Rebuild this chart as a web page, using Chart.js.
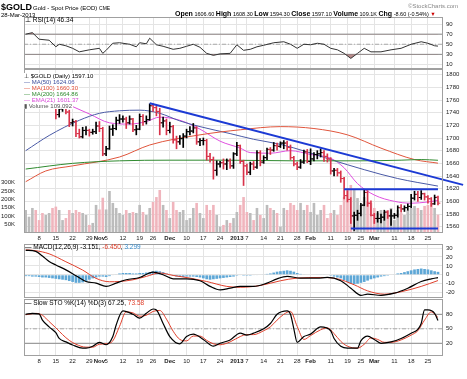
<!DOCTYPE html>
<html>
<head>
<meta charset="utf-8">
<script src="https://cdn.jsdelivr.net/npm/chart.js@4.4.0/dist/chart.umd.min.js"></script>
<style>
  html, body { margin: 0; padding: 0; background: #fff; }
  #wrap { position: relative; width: 467px; height: 379px; overflow: hidden; font-family: "Liberation Sans", Arial, sans-serif; }
  #wrap canvas { position: absolute; left: 0; top: 0; }
  .t { position: absolute; white-space: nowrap; line-height: 1; color: #000; z-index: 5; }
  #legend { position: absolute; left: 24px; top: 73px; font-size: 6px; line-height: 6px; z-index: 5; }
  #legend span { background: #fff; padding-right: 1px; }
  .q b { font-size: 7px; }
</style>
</head>
<body>
<div id="wrap">
  <canvas id="rsiChart" width="467" height="379"></canvas>
  <canvas id="priceChart" width="467" height="379"></canvas>
  <canvas id="macdChart" width="467" height="379"></canvas>
  <canvas id="stoChart" width="467" height="379"></canvas>

  <div class="t" style="left:1px;top:3px;font-size:9px;font-weight:bold;">$GOLD</div>
  <div class="t" style="left:33px;top:5px;font-size:6px;">Gold - Spot Price (EOD) <span style="font-size:5px">CME</span></div>
  <div class="t" style="left:1px;top:12px;font-size:6px;">28-Mar-2013</div>
  <div class="t" style="left:408px;top:3px;font-size:6px;color:#888;">©StockCharts.com</div>
  <div class="t q" style="left:175px;top:10px;font-size:5.5px;"><b>Open</b> 1606.60 <b>High</b> 1608.30 <b>Low</b> 1594.30 <b>Close</b> 1597.10 <b>Volume</b> 109.1K <b>Chg</b> -8.60 (-0.54%) <span style="color:#c00">&#9660;</span></div>

  <div class="t" style="left:25px;top:17px;font-size:6.5px;">&#8869; RSI(14) 46.34</div>

  <div id="legend">
    <div><span>&#8869; $GOLD (Daily) 1597.10</span></div>
    <div style="color:#3b4c9c"><span>&#8212; MA(50) 1624.06</span></div>
    <div style="color:#dd4a35"><span>&#8212; MA(100) 1660.30</span></div>
    <div style="color:#2f8a2f"><span>&#8212; MA(200) 1664.86</span></div>
    <div style="color:#d84ad8"><span>&#8212; EMA(21) 1601.37</span></div>
    <div style="color:#555"><span>&#9646; Volume 109,092</span></div>
  </div>

  <div class="t" style="left:25px;top:244px;font-size:6.5px;">&#8212; MACD(12,26,9) -3.151, <span style="color:#e0402c">-6.450</span>, <span style="color:#3a8fd0">3.299</span></div>
  <div class="t" style="left:25px;top:300px;font-size:6.5px;">&#8212; Slow STO %K(14) %D(3) 67.25, <span style="color:#e0402c">73.58</span></div>
</div>

<script>
// trading days are indexed 0..123 (2 Oct 2012 .. 28 Mar 2013)
const tickIdx  = [4, 9, 14, 19, 22, 24, 29, 34, 38, 43, 48, 53, 58, 63, 66, 71, 76, 81, 85, 91, 96, 100, 104, 110, 115, 120];
const tickText = ['8', '15', '22', '29', 'Nov', '5', '12', '19', '26', 'Dec', '10', '17', '24', '2013', '7', '14', '21', '28', 'Feb', '11', '19', '25', 'Mar', '11', '18', '25'];
const boldTicks = ['Nov', 'Dec', '2013', 'Feb', 'Mar'];

const priceTicks = [1560, 1580, 1600, 1620, 1640, 1660, 1680, 1700, 1720, 1740, 1760, 1780, 1800];
const volTicks = [50000, 100000, 150000, 200000, 250000, 300000];
const rsiTicks = [10, 30, 50, 70, 90];
const macdTicks = [-20, -10, 0, 10, 20, 30];
const stoTicks = [20, 50, 80];

const open = [1774,1776,1778,1793,1780,1775,1765,1765,1768,1757,
  1737,1746,1752,1741,1724,1726,1707,1702,1712,1712,
  1709,1710,1719,1715,1675,1683,1714,1715,1728,1730,
  1730,1724,1730,1713,1714,1734,1726,1729,1751,1748,
  1742,1724,1727,1712,1718,1697,1694,1699,1703,1710,
  1711,1716,1694,1696,1696,1671,1666,1649,1659,1661,
  1659,1664,1656,1675,1688,1663,1656,1646,1659,1654,
  1677,1662,1669,1682,1681,1688,1687,1692,1692,1685,
  1669,1659,1654,1662,1678,1663,1667,1674,1675,1677,
  1671,1667,1648,1649,1645,1636,1609,1603,1577,1578,
  1581,1594,1614,1597,1578,1573,1573,1575,1583,1577,
  1577,1578,1590,1588,1590,1592,1605,1611,1606,1612,
  1607,1604,1596,1606.6];
const high = [1787,1781,1796,1798,1782,1779,1770,1776,1774,1759,
  1748,1753,1754,1744,1730,1728,1714,1717,1718,1714,
  1714,1725,1726,1717,1687,1719,1721,1733,1737,1735,
  1733,1735,1731,1720,1738,1737,1735,1754,1754,1750,
  1747,1733,1730,1725,1720,1703,1704,1707,1714,1718,
  1723,1718,1699,1700,1698,1676,1670,1664,1663,1667,
  1667,1667,1677,1693,1689,1665,1659,1662,1663,1680,
  1680,1672,1684,1685,1693,1692,1694,1696,1695,1689,
  1671,1662,1666,1681,1682,1683,1677,1680,1683,1680,
  1675,1669,1652,1652,1648,1638,1617,1606,1583,1586,
  1597,1619,1617,1601,1581,1584,1580,1586,1585,1587,
  1581,1593,1595,1593,1596,1611,1616,1616,1617,1613,
  1609,1606,1610,1608.3];
const low = [1765,1766,1775,1774,1766,1762,1754,1762,1754,1730,
  1733,1742,1738,1718,1719,1702,1700,1700,1705,1703,
  1706,1707,1710,1672,1672,1682,1704,1713,1723,1725,
  1715,1722,1710,1705,1713,1720,1722,1728,1742,1735,
  1705,1717,1705,1708,1692,1683,1690,1685,1700,1705,
  1708,1690,1688,1689,1665,1662,1635,1641,1654,1651,
  1650,1652,1652,1672,1660,1625,1642,1642,1650,1652,
  1656,1660,1666,1674,1679,1681,1685,1683,1681,1666,
  1656,1650,1652,1660,1661,1658,1664,1667,1670,1663,
  1662,1643,1640,1640,1630,1604,1599,1565,1554,1570,
  1577,1593,1592,1577,1565,1567,1566,1570,1573,1562,
  1573,1575,1583,1584,1586,1590,1602,1600,1603,1602,
  1597,1592,1595,1594.3];
const close = [1776,1778,1793,1780,1775,1765,1765,1768,1757,1737,
  1746,1752,1741,1724,1726,1707,1702,1712,1712,1709,
  1710,1719,1715,1675,1683,1714,1715,1728,1730,1730,
  1724,1730,1713,1714,1734,1726,1729,1751,1748,1742,
  1724,1727,1712,1718,1697,1694,1699,1703,1710,1711,
  1716,1694,1696,1696,1671,1666,1649,1659,1661,1659,
  1664,1656,1675,1688,1663,1656,1646,1659,1654,1677,
  1662,1669,1682,1681,1688,1687,1692,1692,1685,1669,
  1659,1654,1662,1678,1663,1667,1674,1675,1677,1671,
  1667,1648,1649,1645,1636,1609,1603,1577,1578,1581,
  1594,1614,1597,1578,1573,1573,1575,1583,1577,1577,
  1578,1590,1588,1590,1592,1605,1611,1606,1612,1607,
  1604,1596,1606,1597.1];
// volume in thousands
const volume = [137,97,149,137,77,119,107,119,149,157,
  137,77,89,137,119,137,125,119,107,48,
  60,167,140,210,140,250,179,149,119,107,
  137,119,125,119,167,125,107,149,185,214,
  256,167,137,89,185,137,125,137,77,89,
  149,179,119,89,167,137,167,107,38,48,
  77,60,89,125,167,214,125,119,77,149,
  107,89,167,149,137,119,38,149,137,179,
  167,137,179,137,167,125,179,107,137,167,
  89,119,137,107,167,214,268,286,256,208,
  167,214,185,179,149,119,137,125,137,149,
  77,137,119,107,137,149,161,149,137,161,
  167,179,149,109.1];

// [day, value]
const ma50 = [[0,1680],[7,1704],[16,1728],[22,1739],[28,1743],[34,1744],[40,1739],[46,1727],[52,1718],[61,1707],[68,1698],[76,1690],[84,1678],[91,1666],[101,1650],[111,1636],[123,1624.06]];
const ma100 = [[0,1631],[6,1648],[14,1656],[28,1670],[37,1689],[52,1705],[64,1713],[76,1718],[86,1715],[96,1705],[106,1684],[116,1666],[123,1660.3]];
const ma200 = [[0,1651],[14,1660],[28,1664],[43,1665],[60,1665],[80,1664],[100,1664],[112,1665],[118,1666],[123,1664.86]];
const ema21 = [[0,1772],[6,1768],[13,1752],[19,1738],[25,1724],[31,1722],[36,1726],[40,1733],[46,1728],[52,1714],[58,1695],[64,1684],[67,1677],[73,1676],[79,1680],[85,1674],[91,1668],[95,1653],[99,1628],[104,1610],[110,1600],[115,1597],[120,1599],[123,1601.37]];
const downTrend = [[37,1755],[130.5,1626]];
const resistance = [[95,1619],[123,1619]];
const support = [[97,1557],[123,1557]];

const rsi = [[0,70],[2,73],[4,60],[7,58],[9,45],[10,50],[12,47],[14,42],[16,35],[19,39],[22,42],[23,32],[24,38],[26,52],[28,53],[31,50],[33,45],[34,53],[36,51],[37,62],[39,49],[41,46],[44,40],[46,42],[48,46],[50,50],[52,44],[54,32],[56,28],[58,31],[61,32],[63,49],[65,38],[67,40],[69,45],[71,48],[74,53],[77,55],[79,50],[81,42],[83,50],[85,49],[87,52],[89,50],[91,42],[93,39],[95,32],[97,22],[99,32],[101,42],[103,35],[106,35],[109,39],[112,42],[115,50],[118,55],[120,52],[122,47],[123,46.34]];

const macd = [[0,27.4],[3,26.3],[5,21],[7,15],[9,11],[12,5.5],[15,-1],[18,-7.5],[21,-9.3],[24,-13],[27,-9.3],[30,-5.6],[34,-3],[38,3],[41,0],[44,-4.5],[48,-4.5],[52,-6.7],[55,-13],[58,-16.9],[61,-15],[64,-13],[68,-13],[72,-9.3],[75,-4.5],[78,-1.8],[82,-3.7],[87,-3.7],[90,-3],[94,-6.7],[97,-15],[100,-23],[102,-21.7],[106,-23],[110,-20.6],[114,-15],[118,-7.5],[121,-4.5],[123,-3.151]];
const signal = [[0,28],[3,27],[7,23.5],[12,14.6],[17,5.3],[21,-4],[25,-7.8],[28,-7.5],[32,-5.6],[36,-1.8],[40,2],[44,-0.7],[49,-3.7],[54,-7.5],[60,-13],[64,-14],[70,-12],[76,-6.7],[81,-3.7],[88,-3],[93,-4.5],[98,-11.2],[102,-18],[107,-21.7],[112,-19],[118,-13],[123,-6.45]];
const histogram = [-1.5,-1.5,-2,-2,-2.5,-3,-3,-3.5,-4,-4.5,
  -5,-5.5,-6,-7,-8,-9,-9,-8.5,-7,-5.5,
  -4,-3,-2,-2,-2.5,-1.5,-0.5,0.5,1.5,2,
  2,2,1.5,1.5,2,2,2.5,3,4,4.5,
  4,3,1.5,0.5,-1,-2,-2.5,-2.5,-2,-2,
  -2,-2.5,-3,-4,-5,-5.5,-5,-4.5,-4,-3.5,
  -3,-2.5,-2,-1,-0.5,-1,-1,-1,-0.5,-0.5,
  0,0.5,1,1.5,2.5,3.5,4,4.5,5,4.5,
  3.5,2,1,0.5,0,0,0,0.5,0.5,0.5,
  0,-1,-2,-3,-4,-6,-8,-10,-10.5,-10,
  -9,-8,-6.5,-5,-4,-3,-2,-1.5,-1,0,
  0.5,1.5,2,3,4,5,6,6.5,7,6.5,
  6,5,4,3.3];

const stoK = [[0,80],[2,82],[4,81],[5,68],[7,54],[9,42],[10,30],[12,23],[14,16.5],[17,10],[18,10],[20,14],[22,22],[24,17],[26,34],[27,58],[29,87],[32,80],[34,72],[36,82],[38,91],[39,89],[41,61],[43,34],[46,19],[48,34],[50,39],[53,28],[56,14],[58,20],[61,27],[64,41],[66,37],[68,41],[71,50],[73,61],[75,80],[78,87],[79,80],[80,50],[81,22],[83,34],[85,39],[88,54],[91,46],[92,30],[94,14],[96,10],[99,10],[100,25],[102,35],[104,28],[106,20],[109,23],[112,30],[115,41],[117,49],[118,61],[119,89],[120,89],[122,82],[123,67.25]];
const stoD = [[0,79],[3,82],[5,78],[7,65],[9,52],[11,38],[13,26],[15,18],[18,12],[20,12],[22,18],[24,19],[26,25],[28,55],[30,85],[32,83],[34,76],[36,78],[38,86],[40,88],[42,70],[44,45],[46,28],[48,25],[50,35],[52,35],[54,26],[56,19],[58,17],[61,23],[64,34],[66,38],[68,38],[71,46],[73,54],[75,68],[77,80],[79,86],[81,55],[83,28],[85,36],[88,48],[90,52],[92,40],[94,24],[96,14],[99,10],[101,18],[103,31],[105,28],[107,22],[109,22],[112,27],[115,37],[117,46],[119,68],[121,85],[123,73.58]];

Chart.defaults.font.family = '"Liberation Sans", Arial, sans-serif';
Chart.defaults.font.size = 6;
Chart.defaults.color = '#222';

const GRID = '#e4e4e4';
const pts = a => a.map(p => ({ x: p[0], y: p[1] }));
const level = v => [{ x: -0.5, y: v }, { x: 124.5, y: v }];
const upDay = i => close[i] >= (i ? close[i - 1] : open[0]);

const frame = {
  id: 'frame',
  afterDraw(chart) {
    const { ctx, chartArea: a } = chart;
    ctx.save();
    ctx.strokeStyle = '#a0a0a0';
    ctx.lineWidth = 1;
    ctx.strokeRect(Math.round(a.left) + 0.5, Math.round(a.top) + 0.5, Math.round(a.width) - 1, Math.round(a.height) - 1);
    ctx.restore();
  }
};

function xAxis(showLabels) {
  return {
    type: 'linear', min: -0.5, max: 124.5, offset: false,
    afterBuildTicks: s => { s.ticks = tickIdx.map(v => ({ value: v })); },
    afterFit: s => { s.height = showLabels ? 12 : 0; },
    grid: { color: GRID, drawTicks: false, offset: false },
    border: { display: false },
    ticks: {
      display: showLabels, autoSkip: false, maxRotation: 0, padding: 2,
      font: c => ({ size: 6, weight: boldTicks.includes(tickText[c.index]) ? 'bold' : 'normal' }),
      callback: (v, i) => tickText[i]
    }
  };
}

function yRight(min, max, ticks) {
  return {
    position: 'right', min, max,
    afterBuildTicks: s => { s.ticks = ticks.map(v => ({ value: v })); },
    afterFit: s => { s.width = 24; },
    grid: { color: GRID, drawTicks: false },
    border: { display: false },
    ticks: { padding: 3, autoSkip: false, callback: v => String(v) }
  };
}

function line(data, color, width, extra) {
  return Object.assign({
    type: 'line', data, borderColor: color, borderWidth: width,
    pointRadius: 0, fill: false, cubicInterpolationMode: 'monotone', order: 3
  }, extra || {});
}

const base = pad => ({
  responsive: false, animation: false, events: [],
  layout: { padding: pad },
  plugins: { legend: { display: false }, tooltip: { enabled: false } }
});

// RSI
new Chart(document.getElementById('rsiChart'), {
  type: 'line',
  data: {
    datasets: [
      line(pts(rsi), '#333', 1, { tension: 0, cubicInterpolationMode: 'default', fill: { target: { value: 30 }, above: 'rgba(0,0,0,0)', below: 'rgba(160,100,100,0.75)' } }),
      line(pts(rsi), 'rgba(0,0,0,0)', 0, { tension: 0, cubicInterpolationMode: 'default', fill: { target: { value: 70 }, above: 'rgba(160,100,100,0.75)', below: 'rgba(0,0,0,0)' } }),
      line(level(70), '#8a8a8a', 1, { order: 5 }),
      line(level(30), '#8a8a8a', 1, { order: 5 }),
      line(level(50), '#aaa', 1, { order: 5, borderDash: [4, 2, 1, 2] })
    ]
  },
  options: Object.assign(base({ top: 17, bottom: 310, left: 24, right: 0 }), {
    scales: { x: xAxis(false), y: yRight(1, 104, rsiTicks) }
  }),
  plugins: [frame]
});

// Price + volume
const barColor = close.map((c, i) => upDay(i) ? '#000' : '#d8334a');
const volColor = close.map((c, i) => upDay(i) ? '#bcbcbc' : '#f0b5bd');

new Chart(document.getElementById('priceChart'), {
  type: 'bar',
  data: {
    datasets: [
      { type: 'bar', yAxisID: 'yv', data: volume.map((v, i) => ({ x: i, y: v * 1000 })), backgroundColor: volColor, barPercentage: 0.78, categoryPercentage: 1, grouped: false, order: 10 },
      line(pts(ma200), '#2f8a2f', 1, { order: 6 }),
      line(pts(ma100), '#e0553c', 1, { order: 6 }),
      line(pts(ma50), '#4a5aa6', 1, { order: 6 }),
      line(pts(ema21), '#e050e0', 1, { order: 6 }),
      { type: 'bar', yAxisID: 'y', data: low.map((l, i) => ({ x: i, y: [l, high[i]] })), backgroundColor: barColor, barThickness: 1, grouped: false, order: 4 },
      { type: 'line', yAxisID: 'y', data: open.map((o, i) => ({ x: i - 0.4, y: o })), showLine: false, pointStyle: 'line', pointRadius: 1, pointBorderWidth: 1, pointBorderColor: barColor, order: 4 },
      { type: 'line', yAxisID: 'y', data: close.map((c, i) => ({ x: i + 0.4, y: c })), showLine: false, pointStyle: 'line', pointRadius: 1, pointBorderWidth: 1, pointBorderColor: barColor, order: 4 },
      line(pts(downTrend), '#1c3ad4', 2, { cubicInterpolationMode: 'default', tension: 0, clip: false, order: 1 }),
      line(pts(resistance), '#1c3ad4', 2, { cubicInterpolationMode: 'default', tension: 0, order: 1 }),
      line(pts(support), '#1c3ad4', 2, { cubicInterpolationMode: 'default', tension: 0, order: 1 })
    ]
  },
  options: Object.assign(base({ top: 69, bottom: 134, left: 0, right: 0 }), {
    scales: {
      x: xAxis(true),
      y: yRight(1550, 1809, priceTicks),
      yv: {
        position: 'left', min: 0, max: 976000,
        afterBuildTicks: s => { s.ticks = volTicks.map(v => ({ value: v })); },
        afterFit: s => { s.width = 24; },
        grid: { display: false },
        border: { display: false },
        ticks: { padding: 1, autoSkip: false, callback: v => (v / 1000) + 'K' }
      }
    }
  }),
  plugins: [frame]
});

// MACD
new Chart(document.getElementById('macdChart'), {
  type: 'bar',
  data: {
    datasets: [
      { type: 'bar', data: histogram.map((h, i) => ({ x: i, y: h })), backgroundColor: '#5ea7d6', borderWidth: 0, barPercentage: 0.8, categoryPercentage: 1, grouped: false, order: 10 },
      line(pts(signal), '#e0402c', 1, { order: 2 }),
      line(pts(macd), '#000', 1.2, { order: 1 })
    ]
  },
  options: Object.assign(base({ top: 244, bottom: 81, left: 24, right: 0 }), {
    scales: { x: xAxis(false), y: yRight(-26, 34.5, macdTicks) }
  }),
  plugins: [frame]
});

// Slow stochastic
new Chart(document.getElementById('stoChart'), {
  type: 'line',
  data: {
    datasets: [
      line(level(80), '#8a8a8a', 1, { order: 5 }),
      line(level(20), '#8a8a8a', 1, { order: 5 }),
      line(level(50), '#aaa', 1, { order: 5, borderDash: [4, 2, 1, 2] }),
      line(pts(stoD), '#e0402c', 1, { order: 2 }),
      line(pts(stoK), '#000', 1.2, { order: 1 })
    ]
  },
  options: Object.assign(base({ top: 299, bottom: 11, left: 24, right: 0 }), {
    scales: { x: xAxis(true), y: yRight(-6.3, 111.7, stoTicks) }
  }),
  plugins: [frame]
});
</script>
</body>
</html>
